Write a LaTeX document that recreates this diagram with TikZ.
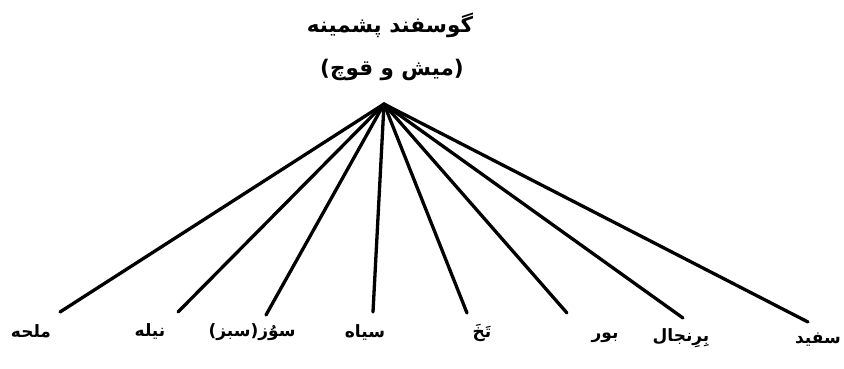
\documentclass[tikz,border=0pt]{standalone}
\usepackage{fontspec}
\TeXXeTstate=1
\newfontfamily\arabicfont[Script=Arabic]{DejaVu Sans}
\begin{document}
\begin{tikzpicture}[x=1pt,y=-1pt,
  titletext/.style={font=\arabicfont\bfseries\fontsize{21.5}{24}\selectfont, inner sep=0pt},
  lbl/.style={font=\arabicfont\bfseries\fontsize{17}{20}\selectfont, inner sep=0pt},
  branch/.style={line width=3.3pt, line cap=round}]
\useasboundingbox (0,0) rectangle (844,368);
\node[titletext] (t1) at (390,25) {\beginR گوسفند پشمینه\endR};
\node[titletext] (t2) at (392,70) {\beginR (میش و قوچ)\endR};
\coordinate (apex) at (384,104);
\coordinate (e1) at (60,312);
\coordinate (e2) at (178,312);
\coordinate (e3) at (266,315);
\coordinate (e4) at (373,312);
\coordinate (e5) at (467,313);
\coordinate (e6) at (567,313);
\coordinate (e7) at (683,318);
\coordinate (e8) at (808,322);
\foreach \e in {e1,e2,e3,e4,e5,e6,e7,e8} \draw[branch] (apex) -- (\e);
\node[lbl] (l1) at (31,331) {\beginR ملحه\endR};
\node[lbl] (l2) at (150,331) {\beginR نیله\endR};
\node[lbl] (l3) at (252,332) {\beginR سوُز(سبز)\endR};
\node[lbl] (l4) at (365,332) {\beginR سیاه\endR};
\node[lbl] (l5) at (482,333) {\beginR تَخَ\endR};
\node[lbl] (l6) at (605,338) {\beginR بور\endR};
\node[lbl] (l7) at (681,338) {\beginR بِرِنجال\endR};
\node[lbl] (l8) at (818,340) {\beginR سفید\endR};
\end{tikzpicture}
\end{document}
